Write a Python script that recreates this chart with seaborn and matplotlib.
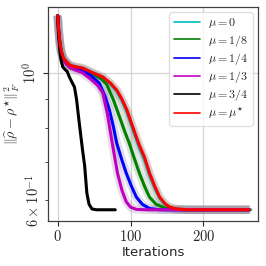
import numpy as np
import pandas as pd
import matplotlib
matplotlib.use("Agg")
import matplotlib.pyplot as plt
import seaborn as sns
from matplotlib.ticker import LogFormatterSciNotation, FixedLocator

# ---- data ----
labels = [r"$\mu = 0$", r"$\mu = 1/8$", r"$\mu = 1/4$", r"$\mu = 1/3$", r"$\mu = 3/4$", r"$\mu = \mu^{\star}$"]
colors = ["c", "g", "b", "m", "k", "r"]

it_red = [0, 1, 3, 5, 8, 12, 17, 25, 34, 48, 62, 72, 81, 88, 95, 100, 106, 112, 119, 126, 133, 140, 147, 153, 160, 170, 180, 200, 230, 263]
val_red = [1.257, 1.20, 1.13, 1.09, 1.06, 1.045, 1.03, 1.024, 1.019, 1.0, 0.983, 0.96, 0.933, 0.90, 0.861, 0.825, 0.785, 0.748, 0.713, 0.669, 0.635, 0.607, 0.592, 0.584, 0.580, 0.578, 0.577, 0.577, 0.577, 0.577]

it_cyan = [0, 1, 3, 5, 8, 12, 17, 25, 34, 48, 62, 72, 81, 88, 95, 100, 106, 112, 119, 126, 133, 140, 147, 153, 160, 170, 180, 200, 230, 265]
val_cyan = [1.257, 1.20, 1.13, 1.09, 1.06, 1.044, 1.03, 1.023, 1.018, 0.999, 0.981, 0.957, 0.928, 0.894, 0.853, 0.817, 0.777, 0.740, 0.705, 0.662, 0.630, 0.604, 0.590, 0.583, 0.579, 0.578, 0.577, 0.577, 0.577, 0.577]

it_green = [0, 1, 3, 5, 8, 12, 17, 25, 34, 48, 60, 67, 76, 85, 92, 98, 105, 112, 119, 126, 135, 149, 167, 200, 263]
val_green = [1.257, 1.20, 1.125, 1.085, 1.058, 1.042, 1.028, 1.02, 1.014, 0.995, 0.975, 0.955, 0.90, 0.837, 0.79, 0.755, 0.71, 0.669, 0.635, 0.607, 0.59, 0.58, 0.577, 0.577, 0.577]

it_blue = [0, 1, 3, 5, 8, 12, 17, 25, 34, 45, 57, 65, 71, 76, 81, 88, 94, 101, 108, 116, 126, 140, 200, 263]
val_blue = [1.257, 1.195, 1.12, 1.08, 1.055, 1.04, 1.025, 1.015, 1.008, 0.99, 0.959, 0.91, 0.861, 0.81, 0.754, 0.705, 0.669, 0.635, 0.607, 0.59, 0.58, 0.577, 0.577, 0.577]

it_magenta = [0, 1, 3, 5, 8, 12, 17, 25, 34, 45, 55, 62, 68, 74, 78, 82, 88, 94, 100, 108, 120, 150, 200, 263]
val_magenta = [1.257, 1.19, 1.11, 1.075, 1.05, 1.035, 1.02, 1.01, 1.0, 0.975, 0.95, 0.922, 0.85, 0.765, 0.715, 0.669, 0.625, 0.596, 0.583, 0.578, 0.577, 0.577, 0.577, 0.577]

it_black = [0, 1, 3, 5, 7, 10, 13, 16, 20, 23, 26, 28, 31, 34, 37, 40, 43, 47, 53, 65, 79]
val_black = [1.257, 1.17, 1.09, 1.045, 1.023, 1.013, 1.005, 0.983, 0.96, 0.944, 0.896, 0.85, 0.79, 0.735, 0.688, 0.617, 0.59, 0.579, 0.577, 0.577, 0.577]

series_it = [it_cyan, it_green, it_blue, it_magenta, it_black, it_red]
series_val = [val_cyan, val_green, val_blue, val_magenta, val_black, val_red]
has_band = [True, True, True, True, False, True]

xticks = [0, 100, 200]

# ---- style ----
sns.set_style("white")
plt.rcParams["font.family"] = ["cmr10"]
plt.rcParams["mathtext.fontset"] = "cm"
plt.rcParams["axes.formatter.use_mathtext"] = True

fig, ax = plt.subplots(figsize=(2.66, 2.66), dpi=100)
fig.subplots_adjust(left=0.180, right=0.970, top=0.974, bottom=0.169)

# shaded bands
for its, vals, col, band in zip(series_it, series_val, colors, has_band):
    if band:
        df = pd.DataFrame({"it": its, "v": vals})
        sns.lineplot(data=df, x="it", y="v", ax=ax, color=col, lw=6, alpha=0.07,
                     legend=False, solid_capstyle="butt")
        sns.lineplot(data=df, x="it", y="v", ax=ax, color="0.6", lw=6, alpha=0.18,
                     legend=False, solid_capstyle="butt")
# main lines
for its, vals, col, lab in zip(series_it, series_val, colors, labels):
    df = pd.DataFrame({"it": its, "v": vals})
    sns.lineplot(data=df, x="it", y="v", ax=ax, color=col, lw=2.2, label=lab)

ax.set_yscale("log")
ax.set_xlim(-13.5, 275)
ax.set_ylim(0.5515, 1.302)
ax.set_xticks(xticks)

ax.yaxis.set_major_locator(FixedLocator([1.0]))
ax.yaxis.set_minor_locator(FixedLocator([0.6, 0.7, 0.8, 0.9]))
ax.yaxis.set_major_formatter(LogFormatterSciNotation())
def minor_fmt(v, pos):
    return r"$6\times10^{-1}$" if abs(v - 0.6) < 1e-9 else ""
ax.yaxis.set_minor_formatter(plt.FuncFormatter(minor_fmt))

ax.grid(True, which="major", color="0.83", lw=0.9)
ax.tick_params(axis="both", which="major", direction="out", length=3.5, width=0.8,
               labelsize=10.5, left=True, bottom=True, colors="0.15", pad=2.5)
ax.tick_params(axis="y", which="minor", direction="out", length=2, width=0.6,
               labelsize=10.5, left=True, colors="0.15", pad=2.5)
for lbl in ax.get_yticklabels(which="both"):
    lbl.set_rotation(90)
    lbl.set_va("center")
for s in ax.spines.values():
    s.set_color("0.25")
    s.set_linewidth(0.9)

ax.set_xlabel("Iterations", fontsize=9.5, family="DejaVu Sans", labelpad=1)
ax.set_ylabel(r"$\|\widehat{\rho} - \rho^{\star}\|_F^2$", fontsize=10, labelpad=0)

leg = ax.legend(loc="upper right", fontsize=8.6, frameon=True, fancybox=True,
                borderaxespad=0.45, handlelength=2.2, labelspacing=0.18,
                borderpad=0.35, handletextpad=0.7)
leg.get_frame().set_edgecolor("0.85")
for h in leg.get_lines():
    h.set_linewidth(1.2)

fig.savefig("out.png", dpi=100)
